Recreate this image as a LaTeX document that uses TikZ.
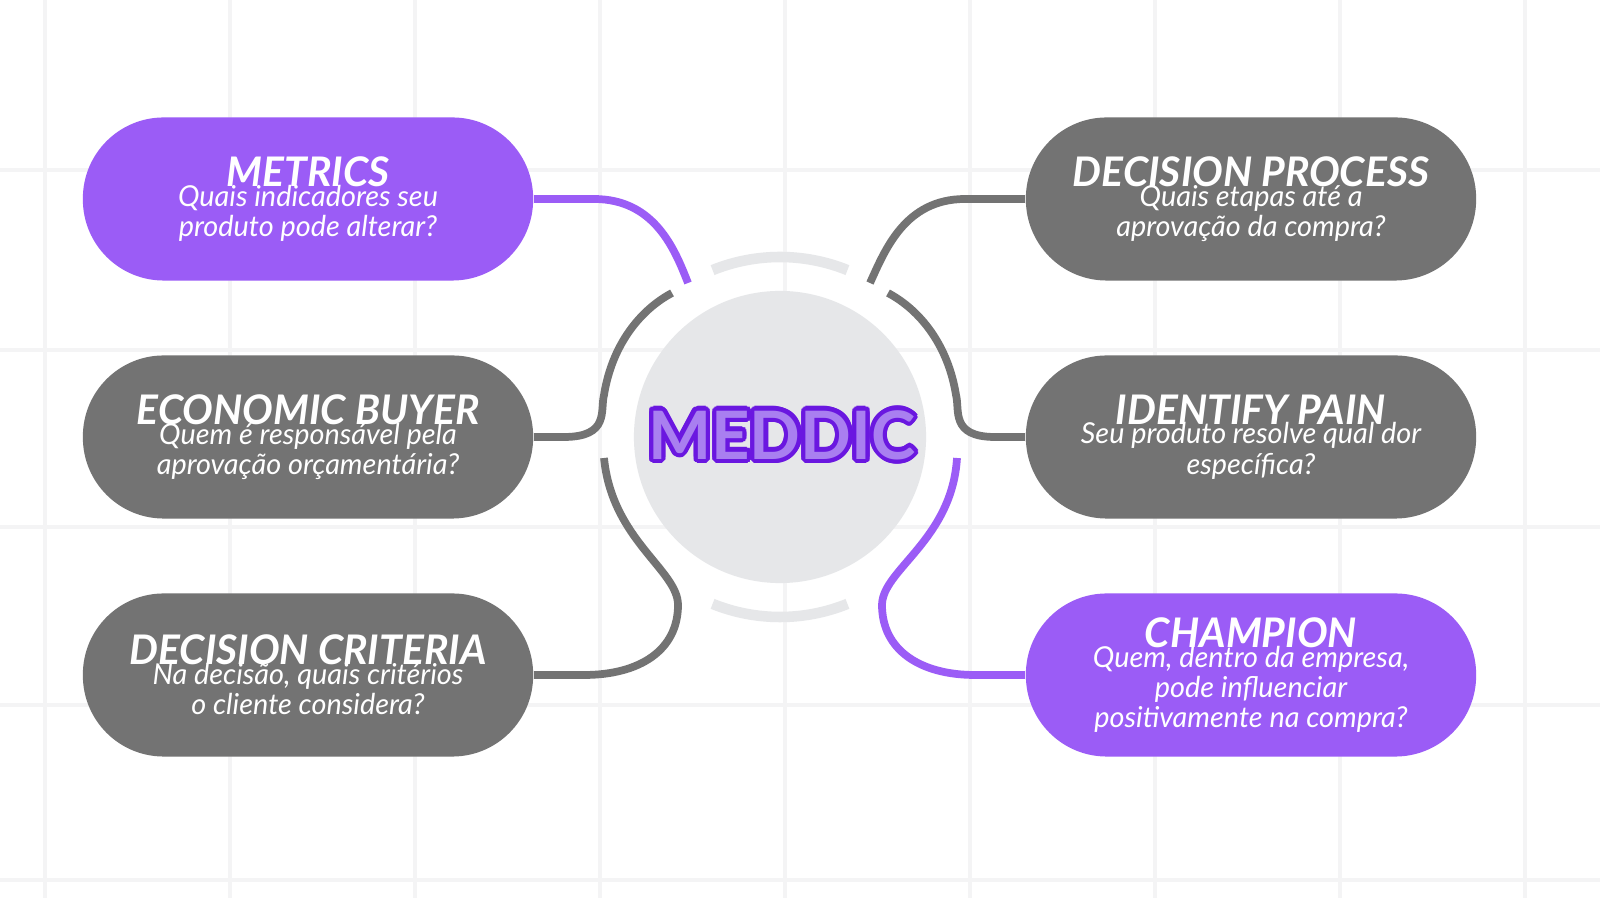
\documentclass[tikz,border=0pt]{standalone}
\usepackage{fontspec}
\setmainfont{Lato}
\usepackage[copies]{contour}
\definecolor{roxo}{HTML}{9B5CF6}
\definecolor{roxoesc}{HTML}{6A17E0}
\definecolor{roxoclaro}{HTML}{A97FF0}
\definecolor{cinza}{HTML}{737373}
\definecolor{grade}{HTML}{F4F4F5}
\definecolor{anel}{HTML}{E6E7E9}
\contourlength{1.2pt}
\contournumber{20}
\newcommand{\cab}{\fontsize{11.6}{13}\selectfont\bfseries}
\newcommand{\sub}{\fontsize{8.2}{8.6}\selectfont\mdseries\itshape}
\begin{document}
\begin{tikzpicture}[x=0.01cm,y=-0.01cm,
                    pill/.style = {rounded corners=23pt,minimum width=4.5cm,minimum height=1.63cm,
                        fill=cinza,text=white,align=center,inner sep=0pt,font=\sub},
                    pillp/.style = {pill,fill=roxo},
                    link/.style = {line width=2.2pt,cinza},
                    linkp/.style = {link,roxo}]
                \useasboundingbox (0,0) rectangle (1600,898);
                \fill[white] (0,0) rectangle (1600,898);
                % grade
                \foreach \x in {45,230,415,600,785,970,1155,1340,1525}
                    \draw[grade,line width=1pt] (\x,0) -- (\x,898);
                \foreach \y in {170,350,527,705,880}
                    \draw[grade,line width=1pt] (0,\y) -- (1600,\y);
                % centro
                \node[circle,fill=anel,minimum size=2.92cm] (c) at (780,437) {};
                \node (titulo) at (782,437) {\fontsize{19}{19}\selectfont\bfseries
                    \contour{roxoesc}{\textcolor{roxoclaro}{MEDDIC}}};
                \draw[anel,line width=3pt] (780,437) ++(112:180) arc[start angle=112,end angle=68,radius=180];
                \draw[anel,line width=3pt] (780,437) ++(-112:180) arc[start angle=-112,end angle=-68,radius=180];
                % caixas
                \node[pillp] (m) at (308,199) {\cab METRICS\\[-3pt]
                    Quais indicadores seu\\produto pode alterar?};
                \node[pill] (e) at (308,437) {\cab ECONOMIC BUYER\\[-3pt]
                    Quem é responsável pela\\aprovação orçamentária?};
                \node[pill] (dc) at (308,675) {\cab DECISION CRITERIA\\[-3pt]
                    Na decisão, quais critérios\\o cliente considera?};
                \node[pill] (dp) at (1251,199) {\cab DECISION PROCESS\\[-3pt]
                    Quais etapas até a\\aprovação da compra?};
                \node[pill] (i) at (1251,437) {\cab IDENTIFY PAIN\\[-3pt]
                    Seu produto resolve qual dor\\específica?};
                \node[pillp] (ch) at (1251,675) {\cab CHAMPION\\[-3pt]
                    Quem, dentro da empresa,\\pode influenciar\\positivamente na compra?};
                % ligacoes
                \coordinate (am) at (688,283);
                \coordinate (ae1) at (672,293);
                \coordinate (ae2) at (604,458);
                \coordinate (adp) at (870,283);
                \coordinate (ai1) at (888,293);
                \coordinate (ach) at (957,458);
                \draw[linkp] (m.east) -- ++(60,0) .. controls (655,199) and (675,250) .. (am);
                \draw[link] (e.east) -- ++(30,0) .. controls (610,437) and (600,410) .. (604,395)
                    .. controls (612,345) and (640,310) .. (ae1);
                \draw[link] (dc.east) -- ++(50,0) .. controls (640,675) and (678,650) .. (678,605)
                    .. controls (678,570) and (612,540) .. (ae2);
                \draw[link] (dp.west) -- ++(-60,0) .. controls (905,199) and (885,250) .. (adp);
                \draw[link] (i.west) -- ++(-30,0) .. controls (950,437) and (960,410) .. (956,395)
                    .. controls (948,345) and (920,310) .. (ai1);
                \draw[linkp] (ch.west) -- ++(-50,0) .. controls (920,675) and (882,650) .. (882,605)
                    .. controls (882,570) and (952,540) .. (ach);
            \end{tikzpicture}
\end{document}
